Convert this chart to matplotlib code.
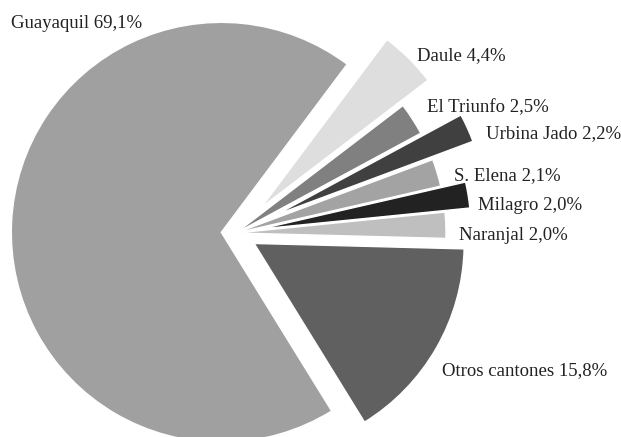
import matplotlib
matplotlib.use("Agg")
import matplotlib.pyplot as plt

categories = ["Guayaquil", "Daule", "El Triunfo", "Urbina Jado", "S. Elena",
              "Milagro", "Naranjal", "Otros cantones"]
values = [69.1, 4.4, 2.5, 2.2, 2.1, 2.0, 2.0, 15.8]
colors = ["#a0a0a0", "#dedede", "#808080", "#404040", "#a3a3a3",
          "#222222", "#bfbfbf", "#606060"]
explode = [0.07, 0.17, 0.0, 0.21, 0.0, 0.12, 0.0, 0.1]

W, H = 621, 437
R = 210
fig = plt.figure(figsize=(W / 100, H / 100), dpi=100)
ax = fig.add_axes([0, 0, 1, 1])

ax.pie(values, colors=colors, explode=[e * R for e in explode],
       startangle=-58.3, counterclock=False, center=(236, H - 233), radius=R,
       wedgeprops=dict(edgecolor="white", linewidth=1.0))

ax.set_xlim(0, W)
ax.set_ylim(0, H)
ax.set_aspect("equal")
ax.axis("off")

# label anchor (left x, baseline y) in pixels from top-left
label_pos = [(11, 28), (417, 60), (427, 112), (486, 138), (454, 180),
             (478, 210), (459, 240), (442, 375)]
for name, val, (x, y) in zip(categories, values, label_pos):
    txt = f"{name} {val:.1f}%".replace(".", ",") if name != "S. Elena" \
        else "S. Elena " + f"{val:.1f}%".replace(".", ",")
    ax.text(x, H - y, txt, ha="left", va="baseline", fontsize=13.5,
            family="Liberation Serif", color="#222222")

fig.savefig("out.png", dpi=100, facecolor="white")
